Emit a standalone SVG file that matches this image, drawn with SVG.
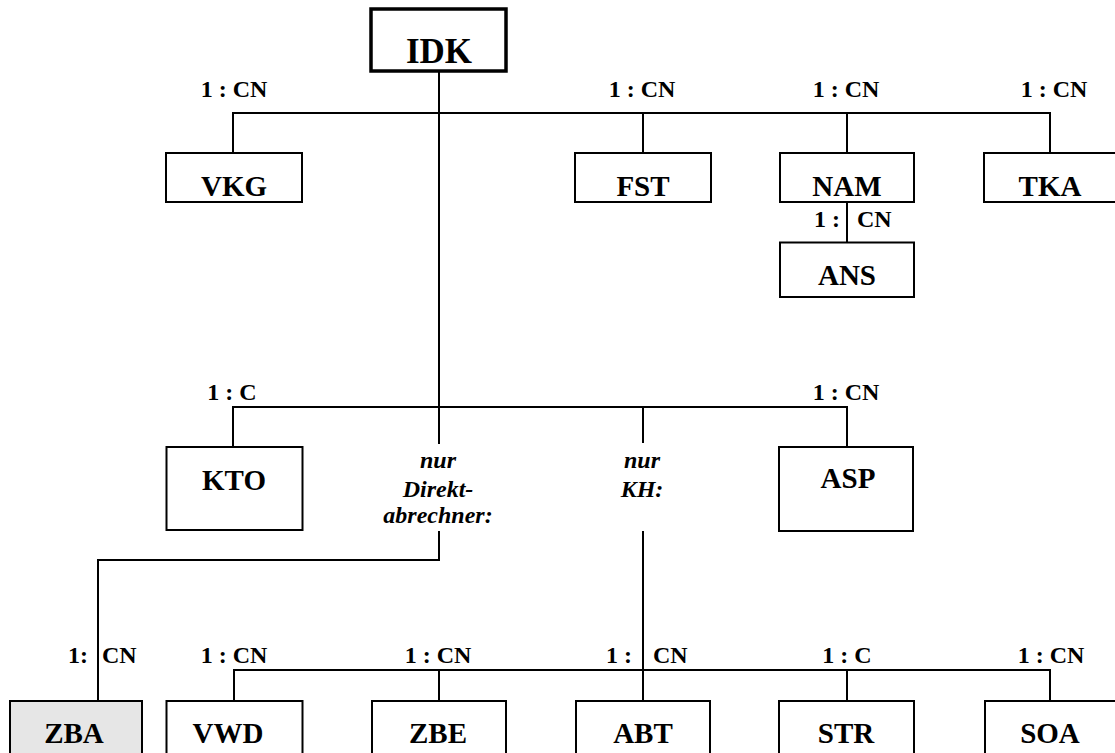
<svg xmlns="http://www.w3.org/2000/svg" width="1115" height="753" viewBox="0 0 1115 753">
<style>
.box{fill:#fff;stroke:#000;stroke-width:2}
.root{fill:#fff;stroke:#000;stroke-width:3.5}
.gray{fill:#e6e6e6}
.name{font-family:"Liberation Serif","Times New Roman",serif;font-weight:bold;font-size:29px;text-anchor:middle;fill:#000}
.big{font-size:35px}
.lbl{font-family:"Liberation Serif","Times New Roman",serif;font-weight:bold;font-size:24px;fill:#000}
.mid{text-anchor:middle}
.end{text-anchor:end}
.note{font-family:"Liberation Serif","Times New Roman",serif;font-weight:bold;font-style:italic;font-size:24px;text-anchor:middle;fill:#000}
.conn{fill:none;stroke:#000;stroke-width:2}
</style>
<rect width="1115" height="753" fill="#fff"/>
<g id="connectors" class="conn">
<path d="M439 72 V444"/>
<path d="M233 152 V113 H1050 V152"/>
<path d="M643 113 V152"/>
<path d="M847 113 V152"/>
<path d="M847 203 V242"/>
<path d="M233 446 V407 H847 V446"/>
<path d="M643 407 V443"/>
<path d="M439 531 V560 H98 V700"/>
<path d="M643 531 V700"/>
<path d="M234 700 V670 H1050 V700"/>
<path d="M439 670 V700"/>
<path d="M847 670 V700"/>
</g>
<g id="labels">
<text class="lbl mid" x="234" y="97">1 : CN</text>
<text class="lbl mid" x="642" y="97">1 : CN</text>
<text class="lbl mid" x="846" y="97">1 : CN</text>
<text class="lbl mid" x="1054" y="97">1 : CN</text>
<text class="lbl end" x="840" y="227">1 :</text>
<text class="lbl" x="857" y="227">CN</text>
<text class="lbl mid" x="232" y="400">1 : C</text>
<text class="lbl mid" x="846" y="400">1 : CN</text>
<text class="lbl end" x="88" y="663">1:</text>
<text class="lbl" x="102" y="663">CN</text>
<text class="lbl mid" x="234" y="663">1 : CN</text>
<text class="lbl mid" x="438" y="663">1 : CN</text>
<text class="lbl end" x="632" y="663">1 :</text>
<text class="lbl" x="653" y="663">CN</text>
<text class="lbl mid" x="847" y="663">1 : C</text>
<text class="lbl mid" x="1051" y="663">1 : CN</text>
</g>
<g id="note-direkt">
<text class="note" x="438" y="468">nur</text>
<text class="note" x="438" y="497">Direkt-</text>
<text class="note" x="438" y="523">abrechner:</text>
</g>
<g id="note-kh">
<text class="note" x="642" y="468">nur</text>
<text class="note" x="642" y="497">KH:</text>
</g>
<g id="IDK"><rect class="root" x="371" y="9" width="135" height="62"/><text class="name big" x="439" y="63">IDK</text></g>
<g id="VKG"><rect class="box" x="166" y="153" width="136" height="49"/><text class="name" x="234" y="196">VKG</text></g>
<g id="FST"><rect class="box" x="575" y="153" width="136" height="49"/><text class="name" x="643" y="196">FST</text></g>
<g id="NAM"><rect class="box" x="780" y="153" width="134" height="49"/><text class="name" x="847" y="196">NAM</text></g>
<g id="TKA"><rect class="box" x="984" y="153" width="134" height="49"/><text class="name" x="1050" y="196">TKA</text></g>
<g id="ANS"><rect class="box" x="780" y="242.5" width="134" height="54.5"/><text class="name" x="847" y="285">ANS</text></g>
<g id="KTO"><rect class="box" x="166.5" y="447" width="136" height="83"/><text class="name" x="234" y="490">KTO</text></g>
<g id="ASP"><rect class="box" x="779" y="447" width="134" height="84"/><text class="name" x="848" y="488">ASP</text></g>
<g id="ZBA"><rect class="box gray" x="10" y="701" width="132" height="60"/><text class="name" x="74" y="743">ZBA</text></g>
<g id="VWD"><rect class="box" x="166.5" y="701" width="136" height="60"/><text class="name" x="228" y="743">VWD</text></g>
<g id="ZBE"><rect class="box" x="372" y="701" width="134" height="60"/><text class="name" x="438" y="743">ZBE</text></g>
<g id="ABT"><rect class="box" x="576" y="701" width="134" height="60"/><text class="name" x="643" y="743">ABT</text></g>
<g id="STR"><rect class="box" x="779" y="701" width="135" height="60"/><text class="name" x="846" y="743">STR</text></g>
<g id="SOA"><rect class="box" x="985" y="701" width="134" height="60"/><text class="name" x="1050" y="743">SOA</text></g>
</svg>
